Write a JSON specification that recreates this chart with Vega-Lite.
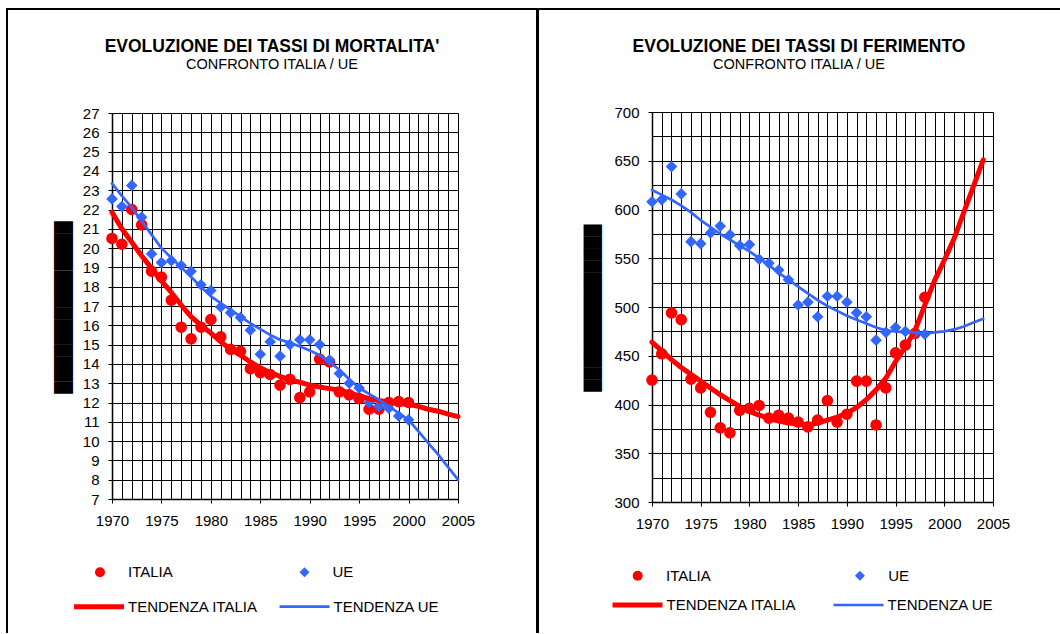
{
  "$schema": "https://vega.github.io/schema/vega-lite/v6.json",
  "background": "white",
  "padding": {"left": 6, "top": 8, "right": 0, "bottom": 0},
  "spacing": -2,
  "config": {
    "font": "Liberation Sans",
    "axis": {"labelFont": "Liberation Sans", "labelFontSize": 15, "labelColor": "black", "domainColor": "black", "tickColor": "black", "gridColor": "black", "gridOpacity": 1, "gridWidth": 1, "titleColor": "black", "labelFlush": false, "labelOverlap": false, "labelBound": false},
    "legend": {"labelFont": "Liberation Sans", "labelFontSize": 15, "labelColor": "black", "padding": 0, "clipHeight": 20, "title": null, "orient": "none", "direction": "horizontal", "columns": 2, "symbolOpacity": 1},
    "title": {"font": "Liberation Sans", "color": "black", "subtitleColor": "black", "subtitleFont": "Liberation Sans"}
  },
  "resolve": {
    "scale": {"color": "independent", "stroke": "independent", "shape": "independent", "strokeWidth": "independent"},
    "legend": {"color": "independent", "stroke": "independent", "shape": "independent", "strokeWidth": "independent"}
  },
  "hconcat": [
    {
      "width": 530,
      "height": 624,
      "view": {"stroke": "black", "strokeWidth": 2, "strokeDash": [1154, 530, 624], "fill": "white"},
      "title": {"text": "EVOLUZIONE DEI TASSI DI MORTALITA'", "subtitle": "CONFRONTO ITALIA / UE", "anchor": "middle", "frame": "group", "offset": -62, "fontSize": 17.5, "fontWeight": "bold", "subtitleFontSize": 14.5, "subtitlePadding": 2},
      "data": {"values": [
        {"year": 1970, "v": 20.5, "s": "ITALIA"}, {"year": 1971, "v": 20.2, "s": "ITALIA"}, {"year": 1972, "v": 22.0, "s": "ITALIA"}, {"year": 1973, "v": 21.2, "s": "ITALIA"}, {"year": 1974, "v": 18.8, "s": "ITALIA"}, {"year": 1975, "v": 18.5, "s": "ITALIA"}, {"year": 1976, "v": 17.3, "s": "ITALIA"}, {"year": 1977, "v": 15.9, "s": "ITALIA"}, {"year": 1978, "v": 15.3, "s": "ITALIA"}, {"year": 1979, "v": 15.9, "s": "ITALIA"}, {"year": 1980, "v": 16.3, "s": "ITALIA"}, {"year": 1981, "v": 15.4, "s": "ITALIA"}, {"year": 1982, "v": 14.75, "s": "ITALIA"}, {"year": 1983, "v": 14.65, "s": "ITALIA"}, {"year": 1984, "v": 13.75, "s": "ITALIA"}, {"year": 1985, "v": 13.55, "s": "ITALIA"}, {"year": 1986, "v": 13.45, "s": "ITALIA"}, {"year": 1987, "v": 12.9, "s": "ITALIA"}, {"year": 1988, "v": 13.2, "s": "ITALIA"}, {"year": 1989, "v": 12.25, "s": "ITALIA"}, {"year": 1990, "v": 12.55, "s": "ITALIA"}, {"year": 1991, "v": 14.25, "s": "ITALIA"}, {"year": 1992, "v": 14.1, "s": "ITALIA"}, {"year": 1993, "v": 12.55, "s": "ITALIA"}, {"year": 1994, "v": 12.4, "s": "ITALIA"}, {"year": 1995, "v": 12.2, "s": "ITALIA"}, {"year": 1996, "v": 11.65, "s": "ITALIA"}, {"year": 1997, "v": 11.65, "s": "ITALIA"}, {"year": 1998, "v": 12.0, "s": "ITALIA"}, {"year": 1999, "v": 12.05, "s": "ITALIA"}, {"year": 2000, "v": 12.0, "s": "ITALIA"},
        {"year": 1970, "v": 22.55, "s": "UE"}, {"year": 1971, "v": 22.15, "s": "UE"}, {"year": 1972, "v": 23.25, "s": "UE"}, {"year": 1973, "v": 21.6, "s": "UE"}, {"year": 1974, "v": 19.7, "s": "UE"}, {"year": 1975, "v": 19.25, "s": "UE"}, {"year": 1976, "v": 19.35, "s": "UE"}, {"year": 1977, "v": 19.1, "s": "UE"}, {"year": 1978, "v": 18.8, "s": "UE"}, {"year": 1979, "v": 18.1, "s": "UE"}, {"year": 1980, "v": 17.8, "s": "UE"}, {"year": 1981, "v": 16.95, "s": "UE"}, {"year": 1982, "v": 16.65, "s": "UE"}, {"year": 1983, "v": 16.4, "s": "UE"}, {"year": 1984, "v": 15.75, "s": "UE"}, {"year": 1985, "v": 14.5, "s": "UE"}, {"year": 1986, "v": 15.15, "s": "UE"}, {"year": 1987, "v": 14.4, "s": "UE"}, {"year": 1988, "v": 15.0, "s": "UE"}, {"year": 1989, "v": 15.25, "s": "UE"}, {"year": 1990, "v": 15.25, "s": "UE"}, {"year": 1991, "v": 15.0, "s": "UE"}, {"year": 1992, "v": 14.2, "s": "UE"}, {"year": 1993, "v": 13.5, "s": "UE"}, {"year": 1994, "v": 13.0, "s": "UE"}, {"year": 1995, "v": 12.75, "s": "UE"}, {"year": 1996, "v": 12.0, "s": "UE"}, {"year": 1997, "v": 11.8, "s": "UE"}, {"year": 1998, "v": 11.7, "s": "UE"}, {"year": 1999, "v": 11.3, "s": "UE"}, {"year": 2000, "v": 11.1, "s": "UE"},
        {"year": 1970, "v": 21.85, "s": "TENDENZA ITALIA"}, {"year": 1971, "v": 21.0, "s": "TENDENZA ITALIA"}, {"year": 1972, "v": 20.3, "s": "TENDENZA ITALIA"}, {"year": 1973, "v": 19.6, "s": "TENDENZA ITALIA"}, {"year": 1974, "v": 18.95, "s": "TENDENZA ITALIA"}, {"year": 1975, "v": 18.3, "s": "TENDENZA ITALIA"}, {"year": 1976, "v": 17.7, "s": "TENDENZA ITALIA"}, {"year": 1977, "v": 17.05, "s": "TENDENZA ITALIA"}, {"year": 1978, "v": 16.45, "s": "TENDENZA ITALIA"}, {"year": 1979, "v": 16.0, "s": "TENDENZA ITALIA"}, {"year": 1980, "v": 15.6, "s": "TENDENZA ITALIA"}, {"year": 1981, "v": 15.15, "s": "TENDENZA ITALIA"}, {"year": 1982, "v": 14.75, "s": "TENDENZA ITALIA"}, {"year": 1983, "v": 14.45, "s": "TENDENZA ITALIA"}, {"year": 1984, "v": 14.1, "s": "TENDENZA ITALIA"}, {"year": 1985, "v": 13.8, "s": "TENDENZA ITALIA"}, {"year": 1986, "v": 13.55, "s": "TENDENZA ITALIA"}, {"year": 1987, "v": 13.35, "s": "TENDENZA ITALIA"}, {"year": 1988, "v": 13.17, "s": "TENDENZA ITALIA"}, {"year": 1989, "v": 13.05, "s": "TENDENZA ITALIA"}, {"year": 1990, "v": 12.9, "s": "TENDENZA ITALIA"}, {"year": 1991, "v": 12.8, "s": "TENDENZA ITALIA"}, {"year": 1992, "v": 12.72, "s": "TENDENZA ITALIA"}, {"year": 1993, "v": 12.65, "s": "TENDENZA ITALIA"}, {"year": 1994, "v": 12.5, "s": "TENDENZA ITALIA"}, {"year": 1995, "v": 12.35, "s": "TENDENZA ITALIA"}, {"year": 1996, "v": 12.2, "s": "TENDENZA ITALIA"}, {"year": 1997, "v": 12.1, "s": "TENDENZA ITALIA"}, {"year": 1998, "v": 12.02, "s": "TENDENZA ITALIA"}, {"year": 1999, "v": 11.95, "s": "TENDENZA ITALIA"}, {"year": 2000, "v": 11.9, "s": "TENDENZA ITALIA"}, {"year": 2001, "v": 11.8, "s": "TENDENZA ITALIA"}, {"year": 2002, "v": 11.65, "s": "TENDENZA ITALIA"}, {"year": 2003, "v": 11.55, "s": "TENDENZA ITALIA"}, {"year": 2004, "v": 11.4, "s": "TENDENZA ITALIA"}, {"year": 2005, "v": 11.27, "s": "TENDENZA ITALIA"},
        {"year": 1970, "v": 23.35, "s": "TENDENZA UE"}, {"year": 1971, "v": 22.7, "s": "TENDENZA UE"}, {"year": 1972, "v": 22.1, "s": "TENDENZA UE"}, {"year": 1973, "v": 21.4, "s": "TENDENZA UE"}, {"year": 1974, "v": 20.7, "s": "TENDENZA UE"}, {"year": 1975, "v": 20.0, "s": "TENDENZA UE"}, {"year": 1976, "v": 19.5, "s": "TENDENZA UE"}, {"year": 1977, "v": 19.0, "s": "TENDENZA UE"}, {"year": 1978, "v": 18.5, "s": "TENDENZA UE"}, {"year": 1979, "v": 18.0, "s": "TENDENZA UE"}, {"year": 1980, "v": 17.5, "s": "TENDENZA UE"}, {"year": 1981, "v": 17.15, "s": "TENDENZA UE"}, {"year": 1982, "v": 16.8, "s": "TENDENZA UE"}, {"year": 1983, "v": 16.45, "s": "TENDENZA UE"}, {"year": 1984, "v": 16.1, "s": "TENDENZA UE"}, {"year": 1985, "v": 15.8, "s": "TENDENZA UE"}, {"year": 1986, "v": 15.5, "s": "TENDENZA UE"}, {"year": 1987, "v": 15.25, "s": "TENDENZA UE"}, {"year": 1988, "v": 15.1, "s": "TENDENZA UE"}, {"year": 1989, "v": 14.9, "s": "TENDENZA UE"}, {"year": 1990, "v": 14.7, "s": "TENDENZA UE"}, {"year": 1991, "v": 14.45, "s": "TENDENZA UE"}, {"year": 1992, "v": 14.1, "s": "TENDENZA UE"}, {"year": 1993, "v": 13.7, "s": "TENDENZA UE"}, {"year": 1994, "v": 13.2, "s": "TENDENZA UE"}, {"year": 1995, "v": 12.75, "s": "TENDENZA UE"}, {"year": 1996, "v": 12.45, "s": "TENDENZA UE"}, {"year": 1997, "v": 12.15, "s": "TENDENZA UE"}, {"year": 1998, "v": 11.8, "s": "TENDENZA UE"}, {"year": 1999, "v": 11.45, "s": "TENDENZA UE"}, {"year": 2000, "v": 11.1, "s": "TENDENZA UE"}, {"year": 2001, "v": 10.5, "s": "TENDENZA UE"}, {"year": 2002, "v": 9.9, "s": "TENDENZA UE"}, {"year": 2003, "v": 9.3, "s": "TENDENZA UE"}, {"year": 2004, "v": 8.65, "s": "TENDENZA UE"}, {"year": 2005, "v": 8.0, "s": "TENDENZA UE"}
      ]},
      "layer": [
        {
          "transform": [{"filter": "datum.s === 'ITALIA' || datum.s === 'UE'"}],
          "mark": {"type": "point", "filled": true, "opacity": 1, "strokeWidth": 0, "size": 135},
          "encoding": {
            "x": {"field": "year", "type": "quantitative",
              "scale": {"domain": [1970, 2005], "range": [105, 451], "nice": false, "zero": false},
              "axis": {"orient": "top", "offset": -104, "values": [1970,1971,1972,1973,1974,1975,1976,1977,1978,1979,1980,1981,1982,1983,1984,1985,1986,1987,1988,1989,1990,1991,1992,1993,1994,1995,1996,1997,1998,1999,2000,2001,2002,2003,2004,2005], "grid": true, "labels": false, "ticks": false, "domain": false, "title": null}},
            "y": {"field": "v", "type": "quantitative",
              "scale": {"domain": [7, 27], "range": [490, 104], "nice": false, "zero": false},
              "axis": {"orient": "left", "offset": -105, "values": [7,8,9,10,11,12,13,14,15,16,17,18,19,20,21,22,23,24,25,26,27], "grid": true, "tickSize": 4, "labelPadding": 9, "domainWidth": 1.5,
                "title": "██████████████", "titleFont": "DejaVu Sans", "titleFontSize": 16, "titleFontWeight": "normal", "titleAngle": -90, "titleAlign": "center", "titleBaseline": "middle", "titleX": -49, "titleY": 298}},
            "color": {"field": "s", "type": "nominal",
              "scale": {"domain": ["ITALIA", "UE"], "range": ["#ff0000", "#3366ff"]},
              "legend": {"legendX": 85.5, "legendY": 553.3, "symbolSize": 100, "symbolStrokeWidth": 0, "labelOffset": 20.5, "columnPadding": 123.5}},
            "shape": {"field": "s", "type": "nominal", "scale": {"domain": ["ITALIA", "UE"], "range": ["circle", "diamond"]},
              "legend": {"legendX": 85.5, "legendY": 553.3, "symbolSize": 100, "symbolStrokeWidth": 0, "labelOffset": 20.5, "columnPadding": 123.5}}
          }
        },
        {
          "transform": [{"filter": "datum.s === 'TENDENZA ITALIA' || datum.s === 'TENDENZA UE'"}],
          "mark": {"type": "line", "strokeJoin": "round", "strokeCap": "round"},
          "encoding": {
            "x": {"field": "year", "type": "quantitative",
              "axis": {"orient": "bottom", "offset": -134, "values": [1970,1975,1980,1985,1990,1995,2000,2005], "format": "d", "grid": false, "tickSize": 4, "labelPadding": 10, "domainWidth": 1.5, "title": null}},
            "y": {"field": "v", "type": "quantitative", "axis": null},
            "stroke": {"field": "s", "type": "nominal", "scale": {"domain": ["TENDENZA ITALIA", "TENDENZA UE"], "range": ["#ff0000", "#3366ff"]},
              "legend": {"legendX": 64.5, "legendY": 587.7, "symbolType": "stroke", "symbolSize": 2500, "labelOffset": 1.5, "columnPadding": 18.5}},
            "strokeWidth": {"field": "s", "type": "nominal", "scale": {"domain": ["TENDENZA ITALIA", "TENDENZA UE"], "range": [5, 2.7]},
              "legend": {"legendX": 64.5, "legendY": 587.7, "symbolType": "stroke", "symbolSize": 2500, "labelOffset": 1.5, "columnPadding": 18.5}}
          }
        }
      ],
      "resolve": {"axis": {"x": "independent", "y": "independent"}}
    },
    {
      "width": 522,
      "height": 624,
      "view": {"stroke": "black", "strokeWidth": 2, "strokeDash": [522, 1146, 624], "fill": "white"},
      "title": {"text": "EVOLUZIONE DEI TASSI DI FERIMENTO", "subtitle": "CONFRONTO ITALIA / UE", "anchor": "middle", "frame": "group", "offset": -62, "fontSize": 17.5, "fontWeight": "bold", "subtitleFontSize": 14.5, "subtitlePadding": 2},
      "data": {"values": [
        {"year": 1970, "v": 425, "s": "ITALIA"}, {"year": 1971, "v": 452, "s": "ITALIA"}, {"year": 1972, "v": 494, "s": "ITALIA"}, {"year": 1973, "v": 487, "s": "ITALIA"}, {"year": 1974, "v": 426, "s": "ITALIA"}, {"year": 1975, "v": 417, "s": "ITALIA"}, {"year": 1976, "v": 392, "s": "ITALIA"}, {"year": 1977, "v": 376, "s": "ITALIA"}, {"year": 1978, "v": 371, "s": "ITALIA"}, {"year": 1979, "v": 394, "s": "ITALIA"}, {"year": 1980, "v": 396, "s": "ITALIA"}, {"year": 1981, "v": 399, "s": "ITALIA"}, {"year": 1982, "v": 386, "s": "ITALIA"}, {"year": 1983, "v": 389, "s": "ITALIA"}, {"year": 1984, "v": 386, "s": "ITALIA"}, {"year": 1985, "v": 382, "s": "ITALIA"}, {"year": 1986, "v": 377, "s": "ITALIA"}, {"year": 1987, "v": 384, "s": "ITALIA"}, {"year": 1988, "v": 404, "s": "ITALIA"}, {"year": 1989, "v": 382, "s": "ITALIA"}, {"year": 1990, "v": 390, "s": "ITALIA"}, {"year": 1991, "v": 424, "s": "ITALIA"}, {"year": 1992, "v": 424, "s": "ITALIA"}, {"year": 1993, "v": 379, "s": "ITALIA"}, {"year": 1994, "v": 417, "s": "ITALIA"}, {"year": 1995, "v": 453, "s": "ITALIA"}, {"year": 1996, "v": 461, "s": "ITALIA"}, {"year": 1997, "v": 473, "s": "ITALIA"}, {"year": 1998, "v": 510, "s": "ITALIA"},
        {"year": 1970, "v": 608, "s": "UE"}, {"year": 1971, "v": 610, "s": "UE"}, {"year": 1972, "v": 644, "s": "UE"}, {"year": 1973, "v": 616, "s": "UE"}, {"year": 1974, "v": 567, "s": "UE"}, {"year": 1975, "v": 565, "s": "UE"}, {"year": 1976, "v": 576, "s": "UE"}, {"year": 1977, "v": 583, "s": "UE"}, {"year": 1978, "v": 574, "s": "UE"}, {"year": 1979, "v": 563, "s": "UE"}, {"year": 1980, "v": 564, "s": "UE"}, {"year": 1981, "v": 549, "s": "UE"}, {"year": 1982, "v": 545, "s": "UE"}, {"year": 1983, "v": 538, "s": "UE"}, {"year": 1984, "v": 528, "s": "UE"}, {"year": 1985, "v": 502, "s": "UE"}, {"year": 1986, "v": 505, "s": "UE"}, {"year": 1987, "v": 490, "s": "UE"}, {"year": 1988, "v": 511, "s": "UE"}, {"year": 1989, "v": 511, "s": "UE"}, {"year": 1990, "v": 505, "s": "UE"}, {"year": 1991, "v": 494, "s": "UE"}, {"year": 1992, "v": 490, "s": "UE"}, {"year": 1993, "v": 466, "s": "UE"}, {"year": 1994, "v": 474, "s": "UE"}, {"year": 1995, "v": 479, "s": "UE"}, {"year": 1996, "v": 475, "s": "UE"}, {"year": 1997, "v": 474, "s": "UE"}, {"year": 1998, "v": 472, "s": "UE"},
        {"year": 1970, "v": 464, "s": "TENDENZA ITALIA"}, {"year": 1971, "v": 455, "s": "TENDENZA ITALIA"}, {"year": 1972, "v": 446, "s": "TENDENZA ITALIA"}, {"year": 1973, "v": 438, "s": "TENDENZA ITALIA"}, {"year": 1974, "v": 431, "s": "TENDENZA ITALIA"}, {"year": 1975, "v": 424, "s": "TENDENZA ITALIA"}, {"year": 1976, "v": 417, "s": "TENDENZA ITALIA"}, {"year": 1977, "v": 410, "s": "TENDENZA ITALIA"}, {"year": 1978, "v": 404, "s": "TENDENZA ITALIA"}, {"year": 1979, "v": 398, "s": "TENDENZA ITALIA"}, {"year": 1980, "v": 393, "s": "TENDENZA ITALIA"}, {"year": 1981, "v": 389, "s": "TENDENZA ITALIA"}, {"year": 1982, "v": 386, "s": "TENDENZA ITALIA"}, {"year": 1983, "v": 383, "s": "TENDENZA ITALIA"}, {"year": 1984, "v": 381, "s": "TENDENZA ITALIA"}, {"year": 1985, "v": 380, "s": "TENDENZA ITALIA"}, {"year": 1986, "v": 379, "s": "TENDENZA ITALIA"}, {"year": 1987, "v": 381, "s": "TENDENZA ITALIA"}, {"year": 1988, "v": 384, "s": "TENDENZA ITALIA"}, {"year": 1989, "v": 387, "s": "TENDENZA ITALIA"}, {"year": 1990, "v": 391, "s": "TENDENZA ITALIA"}, {"year": 1991, "v": 397, "s": "TENDENZA ITALIA"}, {"year": 1992, "v": 405, "s": "TENDENZA ITALIA"}, {"year": 1993, "v": 415, "s": "TENDENZA ITALIA"}, {"year": 1994, "v": 427, "s": "TENDENZA ITALIA"}, {"year": 1995, "v": 444, "s": "TENDENZA ITALIA"}, {"year": 1996, "v": 459, "s": "TENDENZA ITALIA"}, {"year": 1997, "v": 476, "s": "TENDENZA ITALIA"}, {"year": 1998, "v": 502, "s": "TENDENZA ITALIA"}, {"year": 1999, "v": 527, "s": "TENDENZA ITALIA"}, {"year": 2000, "v": 548, "s": "TENDENZA ITALIA"}, {"year": 2001, "v": 570, "s": "TENDENZA ITALIA"}, {"year": 2002, "v": 597, "s": "TENDENZA ITALIA"}, {"year": 2003, "v": 624, "s": "TENDENZA ITALIA"}, {"year": 2004, "v": 651, "s": "TENDENZA ITALIA"},
        {"year": 1970, "v": 620, "s": "TENDENZA UE"}, {"year": 1971, "v": 615, "s": "TENDENZA UE"}, {"year": 1972, "v": 610, "s": "TENDENZA UE"}, {"year": 1973, "v": 604, "s": "TENDENZA UE"}, {"year": 1974, "v": 597, "s": "TENDENZA UE"}, {"year": 1975, "v": 589, "s": "TENDENZA UE"}, {"year": 1976, "v": 582, "s": "TENDENZA UE"}, {"year": 1977, "v": 575, "s": "TENDENZA UE"}, {"year": 1978, "v": 569, "s": "TENDENZA UE"}, {"year": 1979, "v": 563, "s": "TENDENZA UE"}, {"year": 1980, "v": 557, "s": "TENDENZA UE"}, {"year": 1981, "v": 550, "s": "TENDENZA UE"}, {"year": 1982, "v": 543, "s": "TENDENZA UE"}, {"year": 1983, "v": 535, "s": "TENDENZA UE"}, {"year": 1984, "v": 528, "s": "TENDENZA UE"}, {"year": 1985, "v": 521, "s": "TENDENZA UE"}, {"year": 1986, "v": 514, "s": "TENDENZA UE"}, {"year": 1987, "v": 507, "s": "TENDENZA UE"}, {"year": 1988, "v": 501, "s": "TENDENZA UE"}, {"year": 1989, "v": 496, "s": "TENDENZA UE"}, {"year": 1990, "v": 491, "s": "TENDENZA UE"}, {"year": 1991, "v": 487, "s": "TENDENZA UE"}, {"year": 1992, "v": 483, "s": "TENDENZA UE"}, {"year": 1993, "v": 479, "s": "TENDENZA UE"}, {"year": 1994, "v": 476, "s": "TENDENZA UE"}, {"year": 1995, "v": 475, "s": "TENDENZA UE"}, {"year": 1996, "v": 474, "s": "TENDENZA UE"}, {"year": 1997, "v": 474, "s": "TENDENZA UE"}, {"year": 1998, "v": 473, "s": "TENDENZA UE"}, {"year": 1999, "v": 474, "s": "TENDENZA UE"}, {"year": 2000, "v": 475, "s": "TENDENZA UE"}, {"year": 2001, "v": 477, "s": "TENDENZA UE"}, {"year": 2002, "v": 480, "s": "TENDENZA UE"}, {"year": 2003, "v": 484, "s": "TENDENZA UE"}, {"year": 2004, "v": 488, "s": "TENDENZA UE"}
      ]},
      "layer": [
        {
          "transform": [{"filter": "datum.s === 'ITALIA' || datum.s === 'UE'"}],
          "mark": {"type": "point", "filled": true, "opacity": 1, "strokeWidth": 0, "size": 135},
          "encoding": {
            "x": {"field": "year", "type": "quantitative",
              "scale": {"domain": [1970, 2005], "range": [114, 455], "nice": false, "zero": false},
              "axis": {"orient": "top", "offset": -103, "values": [1970,1971,1972,1973,1974,1975,1976,1977,1978,1979,1980,1981,1982,1983,1984,1985,1986,1987,1988,1989,1990,1991,1992,1993,1994,1995,1996,1997,1998,1999,2000,2001,2002,2003,2004,2005], "grid": true, "labels": false, "ticks": false, "domain": false, "title": null}},
            "y": {"field": "v", "type": "quantitative",
              "scale": {"domain": [300, 700], "range": [493, 103], "nice": false, "zero": false},
              "axis": {"orient": "left", "offset": -114, "values": [300,325,350,375,400,425,450,475,500,525,550,575,600,625,650,675,700], "grid": true, "tickSize": 4, "labelPadding": 9, "domainWidth": 1.5,
                "labelExpr": "datum.value % 50 === 0 ? datum.label : ''",
                "tickOpacity": {"condition": {"test": "datum.value % 50 === 0", "value": 1}, "value": 0},
                "title": "██████████████", "titleFont": "DejaVu Sans", "titleFontSize": 15.5, "titleFontWeight": "normal", "titleAngle": -90, "titleAlign": "center", "titleBaseline": "middle", "titleX": -60, "titleY": 298.5}},
            "color": {"field": "s", "type": "nominal",
              "scale": {"domain": ["ITALIA", "UE"], "range": ["#ff0000", "#3366ff"]},
              "legend": {"legendX": 92.2, "legendY": 556.7, "symbolSize": 100, "symbolStrokeWidth": 0, "labelOffset": 20.8, "columnPadding": 141.2}},
            "shape": {"field": "s", "type": "nominal", "scale": {"domain": ["ITALIA", "UE"], "range": ["circle", "diamond"]},
              "legend": {"legendX": 92.2, "legendY": 556.7, "symbolSize": 100, "symbolStrokeWidth": 0, "labelOffset": 20.8, "columnPadding": 141.2}}
          }
        },
        {
          "transform": [{"filter": "datum.s === 'TENDENZA ITALIA' || datum.s === 'TENDENZA UE'"}],
          "mark": {"type": "line", "strokeJoin": "round", "strokeCap": "round"},
          "encoding": {
            "x": {"field": "year", "type": "quantitative",
              "axis": {"orient": "bottom", "offset": -131, "values": [1970,1975,1980,1985,1990,1995,2000,2005], "format": "d", "grid": false, "tickSize": 4, "labelPadding": 10, "domainWidth": 1.5, "title": null}},
            "y": {"field": "v", "type": "quantitative", "axis": null},
            "stroke": {"field": "s", "type": "nominal", "scale": {"domain": ["TENDENZA ITALIA", "TENDENZA UE"], "range": ["#ff0000", "#3366ff"]},
              "legend": {"legendX": 72, "legendY": 586, "symbolType": "stroke", "symbolSize": 2500, "labelOffset": 1.5, "columnPadding": 34}},
            "strokeWidth": {"field": "s", "type": "nominal", "scale": {"domain": ["TENDENZA ITALIA", "TENDENZA UE"], "range": [5, 2.7]},
              "legend": {"legendX": 72, "legendY": 586, "symbolType": "stroke", "symbolSize": 2500, "labelOffset": 1.5, "columnPadding": 34}}
          }
        }
      ],
      "resolve": {"axis": {"x": "independent", "y": "independent"}}
    }
  ]
}
